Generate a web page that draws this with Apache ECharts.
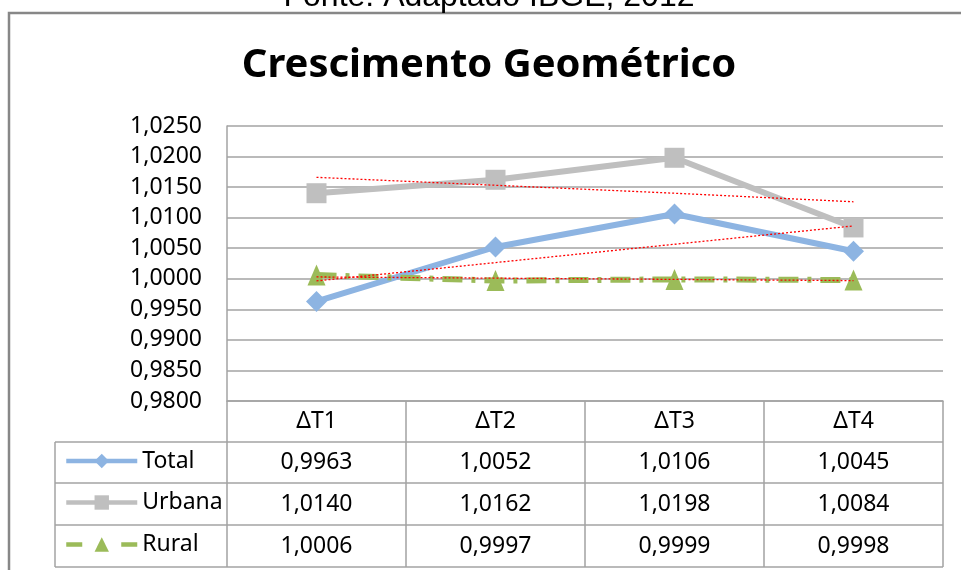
<!DOCTYPE html>
<html>
<head>
<meta charset="utf-8">
<script src="https://cdn.jsdelivr.net/npm/echarts@6/dist/echarts.min.js"></script>
<style>
  html, body { margin: 0; padding: 0; background: #fff; }
  #chart { width: 961px; height: 570px; }
</style>
</head>
<body>
<div id="chart"></div>
<script>
const categories = ['ΔT1', 'ΔT2', 'ΔT3', 'ΔT4']
const total = [0.9963, 1.0052, 1.0106, 1.0045]
const urbana = [1.0140, 1.0162, 1.0198, 1.0084]
const rural = [1.0006, 0.9997, 0.9999, 0.9998]
// linear trendlines
const totalTrend = [0.99965, 1.00265, 1.00565, 1.00865]
const urbanaTrend = [1.0166, 1.0153, 1.0140, 1.0126]
const ruralTrend = [1.0003, 1.0001, 0.9999, 0.9997]

const FONT = '"Noto Sans", "Open Sans", sans-serif'
const GRID_COLOR = '#A3A3A3'
const fmt = v => v.toFixed(4).replace('.', ',')

const rows = [
  { name: 'Total', values: total, color: '#8DB4E2', symbol: 'diamond', size: 21, dash: 'solid', legendDash: 'solid' },
  { name: 'Urbana', values: urbana, color: '#BFBFBF', symbol: 'rect', size: 20, dash: 'solid', legendDash: 'solid' },
  { name: 'Rural', values: rural, color: '#9BBB59', symbol: 'triangle', size: [18, 21], dash: [20, 9, 4, 9], legendDash: [16, 39] },
]
const rowCenters = [462.5, 504, 546]
const rowLines = [442, 483, 525, 567]

const chart = echarts.init(document.getElementById('chart'))

const trendSeries = [totalTrend, urbanaTrend, ruralTrend].map((d, i) => ({
  name: 'trend' + i,
  type: 'line',
  data: d,
  symbol: 'none',
  silent: true,
  z: 5,
  lineStyle: { color: '#FF0000', width: 1.3, type: [2, 2] },
}))

chart.setOption({
  animation: false,
  textStyle: { fontFamily: FONT },
  grid: { left: 227, top: 126, right: 18, bottom: 169 },
  legend: rows.map((r, i) => ({
    data: [r.name],
    left: 64,
    top: rowCenters[i] - 13,
    padding: 0,
    itemWidth: 71,
    itemHeight: 18,
    itemGap: 0,
    lineStyle: { width: 4.5, type: r.legendDash },
    textStyle: { fontSize: 23, color: '#000', fontFamily: FONT },
  })),
  xAxis: {
    type: 'category',
    data: categories,
    boundaryGap: true,
    axisLine: { show: true, lineStyle: { color: GRID_COLOR, width: 1.5 } },
    axisTick: { show: true, length: 166, lineStyle: { color: GRID_COLOR, width: 1.5 } },
    axisLabel: { fontSize: 23, color: '#000', margin: 9, fontFamily: FONT },
    splitLine: { show: false },
  },
  yAxis: {
    type: 'value',
    min: 0.98,
    max: 1.025,
    interval: 0.005,
    axisLine: { show: true, lineStyle: { color: GRID_COLOR, width: 1.5 } },
    axisTick: { show: false },
    axisLabel: { fontSize: 23, color: '#000', margin: 25, fontFamily: FONT, formatter: fmt },
    splitLine: { show: true, lineStyle: { color: GRID_COLOR, width: 1.5 } },
  },
  series: rows.map(r => ({
    name: r.name,
    type: 'line',
    data: r.values,
    color: r.color,
    symbol: r.symbol,
    symbolSize: r.size,
    z: 3,
    lineStyle: { color: r.color, width: 6, type: r.dash },
    itemStyle: { color: r.color },
  })).concat(trendSeries),
})

// data table + frame
const colX = categories.map((c, i) => chart.convertToPixel({ xAxisIndex: 0 }, i))
const graphic = []
graphic.push({
  type: 'rect', silent: true,
  shape: { x: 9, y: 13, width: 1100, height: 700 },
  style: { fill: 'none', stroke: '#878787', lineWidth: 2.5 },
})
graphic.push({
  type: 'text', x: 489, y: -3, silent: true,
  style: { text: 'Fonte: Adaptado IBGE, 2012', font: '32px "Liberation Sans", Arial, sans-serif', fill: '#000', align: 'center', verticalAlign: 'middle' },
})
graphic.push({
  type: 'text', x: 489, y: 66, silent: true,
  style: { text: 'Crescimento Geométrico', font: 'bold 40px ' + FONT, fill: '#000', align: 'center', verticalAlign: 'middle' },
})
rowLines.forEach(y => graphic.push({
  type: 'line', silent: true,
  shape: { x1: 55, y1: y, x2: 943, y2: y },
  style: { stroke: GRID_COLOR, lineWidth: 1.5 },
}))
graphic.push({
  type: 'line', silent: true,
  shape: { x1: 55, y1: rowLines[0], x2: 55, y2: rowLines[3] },
  style: { stroke: GRID_COLOR, lineWidth: 1.5 },
})
rows.forEach((r, i) => {
  r.values.forEach((v, j) => graphic.push({
    type: 'text', x: colX[j], y: rowCenters[i], silent: true,
    style: { text: fmt(v), font: '23px ' + FONT, fill: '#000', align: 'center', verticalAlign: 'middle' },
  }))
})
chart.setOption({ graphic })
</script>
</body>
</html>
